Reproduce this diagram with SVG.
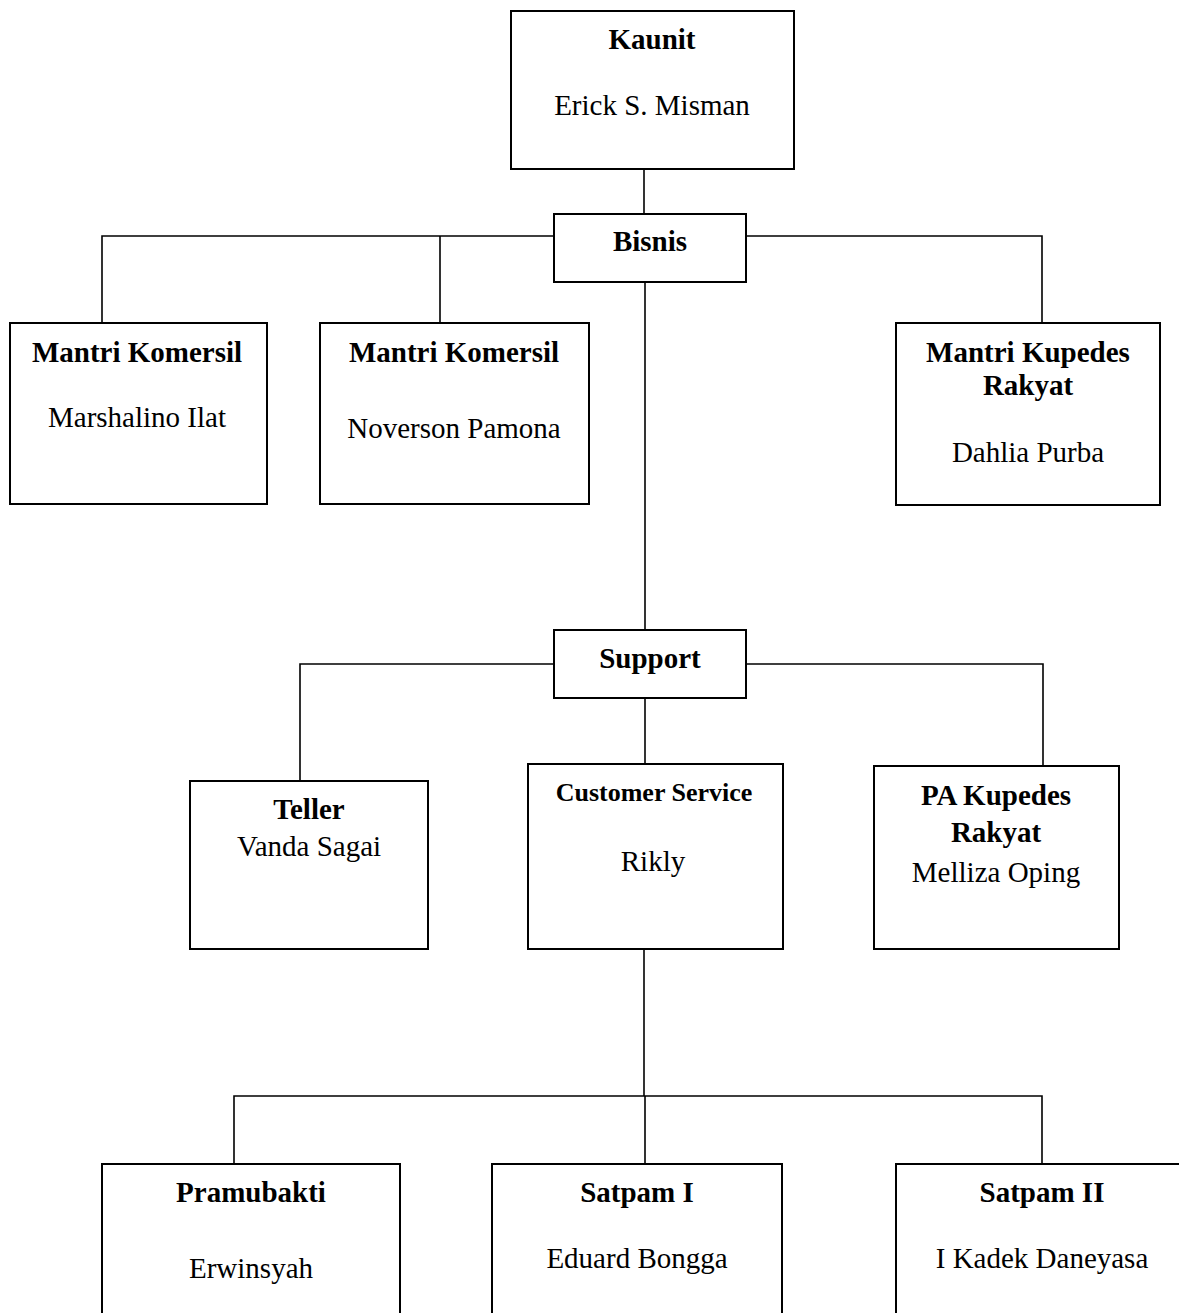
<svg xmlns="http://www.w3.org/2000/svg" width="1179" height="1313" viewBox="0 0 1179 1313">
<style>
rect{fill:#fff;stroke:#000;stroke-width:2}
.c{fill:none;stroke:#000;stroke-width:1.6}
text{font-family:"Liberation Serif","Times New Roman",serif;font-size:29px;fill:#000;text-anchor:middle}
.b{font-weight:bold}
.s{font-size:26px}
</style>
<rect x="0" y="0" width="1179" height="1313" style="stroke:none"/>
<g id="connectors">
<path class="c" d="M644 169V214"/>
<path class="c" d="M554 236H102V323M440 236V323"/>
<path class="c" d="M746 236H1042V323"/>
<path class="c" d="M645 282V630"/>
<path class="c" d="M554 664H300V781"/>
<path class="c" d="M746 664H1043V766"/>
<path class="c" d="M645 698V764"/>
<path class="c" d="M644 949V1096"/>
<path class="c" d="M234 1164V1096H1042V1164M645 1096V1164"/>
</g>
<g id="kaunit"><rect x="511" y="11" width="283" height="158"/><text x="652" y="49" class="b">Kaunit</text><text x="652" y="115">Erick S. Misman</text></g>
<g id="bisnis"><rect x="554" y="214" width="192" height="68"/><text x="650" y="251" class="b">Bisnis</text></g>
<g id="mantri1"><rect x="10" y="323" width="257" height="181"/><text x="137" y="362" class="b">Mantri Komersil</text><text x="137" y="427">Marshalino Ilat</text></g>
<g id="mantri2"><rect x="320" y="323" width="269" height="181"/><text x="454" y="362" class="b">Mantri Komersil</text><text x="454" y="438">Noverson Pamona</text></g>
<g id="mantri3"><rect x="896" y="323" width="264" height="182"/><text x="1028" y="362" class="b">Mantri Kupedes</text><text x="1028" y="395" class="b">Rakyat</text><text x="1028" y="462">Dahlia Purba</text></g>
<g id="support"><rect x="554" y="630" width="192" height="68"/><text x="650" y="668" class="b">Support</text></g>
<g id="teller"><rect x="190" y="781" width="238" height="168"/><text x="309" y="819" class="b">Teller</text><text x="309" y="856">Vanda Sagai</text></g>
<g id="cs"><rect x="528" y="764" width="255" height="185"/><text x="654" y="801" class="b s">Customer Service</text><text x="653" y="871">Rikly</text></g>
<g id="pa"><rect x="874" y="766" width="245" height="183"/><text x="996" y="805" class="b">PA Kupedes</text><text x="996" y="842" class="b">Rakyat</text><text x="996" y="882">Melliza Oping</text></g>
<g id="pramubakti"><path d="M102 1320V1164H400V1320" fill="none" stroke="#000" stroke-width="2"/><text x="251" y="1202" class="b">Pramubakti</text><text x="251" y="1278">Erwinsyah</text></g>
<g id="satpam1"><path d="M492 1320V1164H782V1320" fill="none" stroke="#000" stroke-width="2"/><text x="637" y="1202" class="b">Satpam I</text><text x="637" y="1268">Eduard Bongga</text></g>
<g id="satpam2"><path d="M896 1320V1164H1190" fill="none" stroke="#000" stroke-width="2"/><text x="1042" y="1202" class="b">Satpam II</text><text x="1042" y="1268">I Kadek Daneyasa</text></g>
</svg>
